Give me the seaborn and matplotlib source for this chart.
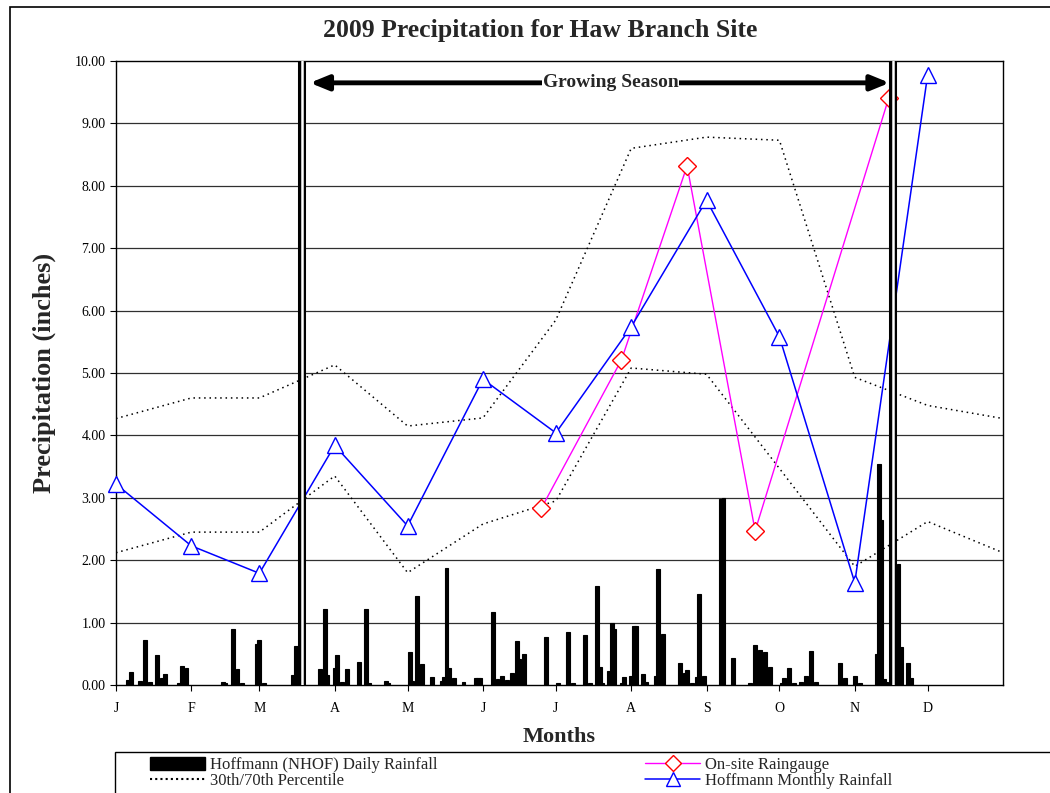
import matplotlib
matplotlib.use("Agg")
import matplotlib.pyplot as plt
from matplotlib.lines import Line2D
from matplotlib.patches import Patch, Rectangle
import numpy as np
import pandas as pd
import seaborn as sns

# daily rainfall at Hoffmann (NHOF), day of year (0 = Jan 1) and inches
daily_day = [5, 6, 10, 12, 14, 17, 19, 20, 26, 27, 29, 44, 45, 48, 50, 52, 58, 59, 61,
             73, 74, 84, 86, 87, 90, 91, 93, 95, 100, 103, 104, 111, 112, 121, 122,
             124, 126, 130, 134, 135, 136, 137, 139, 143, 148, 149, 150, 155, 157,
             159, 161, 163, 165, 166, 168, 177, 182, 186, 188, 193, 195, 198, 199,
             200, 203, 204, 205, 208, 209, 212, 213, 214, 217, 218, 222, 223, 225,
             232, 234, 235, 237, 239, 240, 242, 249, 250, 254, 261, 263, 265, 266,
             267, 269, 274, 275, 277, 279, 282, 284, 286, 288, 298, 300, 304, 306,
             313, 314, 315, 316, 317, 322, 323, 326, 327]
daily_rain = [0.08, 0.21, 0.06, 0.72, 0.05, 0.48, 0.11, 0.17, 0.04, 0.31, 0.27, 0.05,
              0.04, 0.90, 0.25, 0.04, 0.65, 0.72, 0.04, 0.16, 0.63, 0.26, 1.22, 0.16,
              0.27, 0.48, 0.05, 0.26, 0.37, 1.22, 0.04, 0.06, 0.03, 0.53, 0.07, 1.42,
              0.34, 0.13, 0.06, 0.13, 1.87, 0.27, 0.12, 0.05, 0.12, 0.12, 0.12, 1.17,
              0.09, 0.15, 0.08, 0.20, 0.70, 0.41, 0.49, 0.77, 0.03, 0.85, 0.03, 0.80,
              0.03, 1.59, 0.29, 0.03, 0.23, 0.99, 0.90, 0.04, 0.13, 0.15, 0.95, 0.95,
              0.17, 0.05, 0.15, 1.86, 0.82, 0.36, 0.20, 0.24, 0.04, 0.13, 1.46, 0.14,
              2.98, 3.00, 0.43, 0.04, 0.64, 0.56, 0.14, 0.53, 0.29, 0.04, 0.11, 0.28,
              0.04, 0.05, 0.14, 0.54, 0.05, 0.36, 0.11, 0.15, 0.04, 0.50, 3.54, 2.65,
              0.10, 0.05, 1.94, 0.61, 0.35, 0.12]

# month starts
month_day = [0, 31, 59, 90, 120, 151, 181, 212, 243, 273, 304, 334]
month_labels = ["J", "F", "M", "A", "M", "J", "J", "A", "S", "O", "N", "D"]

monthly_rain = [3.22, 2.23, 1.79, 3.84, 2.55, 4.90, 4.04, 5.74, 7.77, 5.58, 1.64, 9.78]

onsite_day = [175, 208, 235, 263, 318]
onsite_rain = [2.83, 5.21, 8.32, 2.47, 9.41]

pct_day = [0, 31, 59, 90, 120, 151, 181, 212, 243, 273, 304, 334, 365]
pct70 = [4.27, 4.60, 4.60, 5.13, 4.15, 4.28, 5.85, 8.60, 8.78, 8.73, 4.93, 4.48, 4.27]
pct30 = [2.12, 2.45, 2.45, 3.35, 1.80, 2.58, 2.95, 5.08, 4.98, 3.47, 1.90, 2.62, 2.12]

season_start, season_end = 76.7, 319.9

sns.set_style("white")
plt.rcParams["font.family"] = ["Liberation Serif", "DejaVu Serif"]

fig = plt.figure(figsize=(10.5, 7.93), dpi=100)
ax = fig.add_axes([116 / 1050, 1 - 685 / 793, 887 / 1050, 624 / 793])

for y in range(1, 10):
    ax.axhline(y, color="#303030", lw=0.9, zorder=0)

ax.bar(daily_day, daily_rain, width=1.6, color="black", edgecolor="black",
       linewidth=0.8, zorder=2)

pct = pd.DataFrame({"day": pct_day, "p70": pct70, "p30": pct30})
for col in ["p70", "p30"]:
    sns.lineplot(data=pct, x="day", y=col, ax=ax, color="black", lw=1.1,
                 linestyle=(0, (1, 2.5)), zorder=3)

onsite = pd.DataFrame({"day": onsite_day, "rain": onsite_rain})
sns.lineplot(data=onsite, x="day", y="rain", ax=ax, color="#FF00FF", lw=1.0,
             marker="D", markersize=9, markerfacecolor="white",
             markeredgecolor="#FF0000", markeredgewidth=1.0, zorder=5,
             clip_on=False)

monthly = pd.DataFrame({"day": month_day, "rain": monthly_rain})
sns.lineplot(data=monthly, x="day", y="rain", ax=ax, color="#0000FF", lw=1.1,
             marker="^", markersize=12, markerfacecolor="white",
             markeredgecolor="#0000FF", markeredgewidth=1.0, zorder=6,
             clip_on=False)

# growing season boundaries (double lines)
for d in [season_start, season_end]:
    ax.axvline(d, color="black", lw=5.8, zorder=7)
    ax.axvline(d, color="white", lw=1.8, zorder=8)

ax.annotate("", xy=(79.8, 9.65), xytext=(318.3, 9.65),
            arrowprops=dict(arrowstyle="<|-|>,head_length=1.1,head_width=0.45",
                            color="black", lw=3.5, shrinkA=0, shrinkB=0), zorder=9)
ax.text(203.5, 9.65, "Growing Season", ha="center", va="center", fontsize=14,
        fontweight="bold", zorder=10,
        bbox=dict(facecolor="white", edgecolor="none", pad=0.5))

ax.set_xlim(0, 365)
ax.set_ylim(0, 10)
ax.set_xticks(month_day)
ax.set_xticklabels(month_labels)
ax.set_yticks(np.arange(0, 10.01, 1))
ax.set_yticklabels([f"{v:.2f}" for v in np.arange(0, 10.01, 1)])
ax.tick_params(axis="both", direction="out", length=4, width=0.8, labelsize=10,
               colors="black", bottom=True, left=True)
ax.tick_params(axis="x", pad=8)
for s in ax.spines.values():
    s.set_color("black")
    s.set_linewidth(1.0)

ax.set_xlabel("Months", fontsize=16, fontweight="bold")
ax.set_ylabel("Precipitation (inches)", fontsize=19, fontweight="bold")
ax.xaxis.set_label_coords((559 - 116) / 887, -0.068)
ax.yaxis.set_label_coords(-0.068, 0.5)

fig.text(540 / 1050, 1 - 31 / 793, "2009 Precipitation for Haw Branch Site",
         ha="center", va="center", fontsize=18.5, fontweight="bold")

# outer frame and legend box
fig.patches.append(Rectangle((10 / 1050, -0.1), 1.2, 0.1 + 1 - 7 / 793,
                             transform=fig.transFigure, fill=False,
                             edgecolor="black", lw=1.2))
fig.patches.append(Rectangle((115 / 1050, -0.1), 1.2, 0.1 + 1 - 752 / 793,
                             transform=fig.transFigure, fill=False,
                             edgecolor="black", lw=1.0))

h_left = [Patch(facecolor="black", edgecolor="black"),
          Line2D([], [], color="black", lw=1.5, linestyle=(0, (1, 1.5)))]
l_left = ["Hoffmann (NHOF) Daily Rainfall", "30th/70th Percentile"]
h_right = [Line2D([], [], color="#FF00FF", lw=1.0, marker="D", markersize=8,
                  markerfacecolor="white", markeredgecolor="#FF0000"),
           Line2D([], [], color="#0000FF", lw=1.1, marker="^", markersize=10,
                  markerfacecolor="white", markeredgecolor="#0000FF")]
l_right = ["On-site Raingauge", "Hoffmann Monthly Rainfall"]
leg_kw = dict(frameon=False, fontsize=12, handlelength=3.3, handleheight=0.8,
              labelspacing=0.0, handletextpad=0.3, borderpad=0, borderaxespad=0)
fig.legend(h_left, l_left, loc="upper left",
           bbox_to_anchor=(150 / 1050, 1 - 757 / 793), **leg_kw)
fig.legend(h_right, l_right, loc="upper left",
           bbox_to_anchor=(645 / 1050, 1 - 757 / 793), **leg_kw)

fig.savefig("out.png", dpi=100)
